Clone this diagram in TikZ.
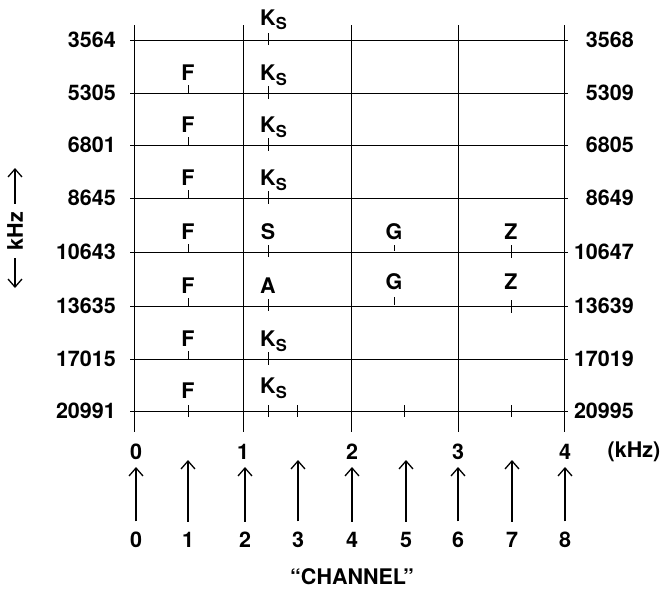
\documentclass[tikz,border=0pt]{standalone}
\usepackage{fontspec}
\setmainfont{TeX Gyre Heros}
\usetikzlibrary{arrows.meta}

% K with a lowered small S
\newcommand{\KsMark}{K\rlap{\raisebox{-5pt}{\fontsize{16.5}{16.5}\selectfont S}}}

\tikzset{
  gridline/.style={line width=1pt},
  tickline/.style={line width=1pt},
  lbl/.style={inner sep=0pt, font=\fontsize{21.5}{24}\selectfont\bfseries},
  sig/.style={lbl, anchor=base},
  uparrow/.style={line width=1.3pt, -{Straight Barb[length=8pt,width=14pt]}},
}

\begin{document}
\begin{tikzpicture}[x=1pt,y=-1pt]
\useasboundingbox (0,0) rectangle (662,589);

% vertical grid lines at 0..4 kHz
\foreach \x in {134,243,351,458,564}
  \draw[gridline] (\x,25) -- (\x,432);

% horizontal lines with frequency labels on both sides
\foreach \y/\l/\r [count=\i] in {40/3564/3568, 93/5305/5309, 145/6801/6805,
    198/8645/8649, 252/10643/10647, 306/13635/13639, 359/17015/17019, 411/20991/20995} {
  \draw[gridline] (130,\y) -- (568,\y);
  \node[lbl, anchor=east] (L\i) at (116,\y) {\l};
  \node[lbl, anchor=east] (R\i) at (634,\y) {\r};
}

% row 1: Ks only
\draw[tickline] (268,33) -- (268,45);
\node[sig] (K1) at (268,25) {\KsMark};

% rows with F and Ks
\foreach \y/\i in {93/2, 145/3, 198/4, 359/7} {
  \draw[tickline] (188,\y-8) -- (188,\y);
  \draw[tickline] (268,\y-7) -- (268,\y+6);
  \node[sig] (F\i) at (188,\y-13) {F};
  \node[sig] (K\i) at (268,\y-13) {\KsMark};
}

% row 5: F, S, G, Z
\draw[tickline] (188,244) -- (188,252);
\draw[tickline] (268,245) -- (268,257);
\draw[tickline] (394,245) -- (394,251);
\draw[tickline] (511,245) -- (511,258);
\node[sig] (F5) at (188,239) {F};
\node[sig] (S5) at (268,239) {S};
\node[sig] (G5) at (394,239) {G};
\node[sig] (Z5) at (511,239) {Z};

% row 6: F, A, G, Z
\draw[tickline] (188,298) -- (188,306);
\draw[tickline] (268,299) -- (268,311);
\draw[tickline] (394,297) -- (394,305);
\draw[tickline] (511,300) -- (511,313);
\node[sig] (F6) at (188,293) {F};
\node[sig] (A6) at (268,293) {A};
\node[sig] (G6) at (394,289) {G};
\node[sig] (Z6) at (511,289) {Z};

% row 8: F, Ks and the channel ticks
\foreach \x in {188,268,297,404,511}
  \draw[tickline] (\x,405) -- (\x,417);
\node[sig] (F8) at (188,398) {F};
\node[sig] (K8) at (268,393) {\KsMark};

% kHz scale
\foreach \x/\n in {136/0, 243/1, 352/2, 458/3, 565/4}
  \node[lbl] (k\n) at (\x,452) {\n};
\node[lbl] (kunit) at (634,452) {(kHz)};

% channel numbers and arrows
\foreach \x/\n/\t in {136/0/467, 188/1/460, 245/2/467, 298/3/460, 352/4/467,
    406/5/460, 458/6/467, 512/7/460, 565/8/467} {
  \node[lbl] (ch\n) at (\x,539.5) {\n};
  \coordinate (tip\n) at (\x,\t);
  \draw[uparrow, shorten <=10pt] (ch\n.north) -- (tip\n);
}
\node[lbl] (chan) at (352,577) {“CHANNEL”};

% vertical frequency axis
\node[lbl, rotate=90] (kz) at (15,231) {kHz};
\coordinate (upTip) at (15,168);
\coordinate (downTip) at (15,288);
\draw[uparrow, shorten <=8pt] (kz.east) -- (upTip);
\draw[uparrow, shorten <=8pt] (kz.west) -- (downTip);
\end{tikzpicture}
\end{document}
